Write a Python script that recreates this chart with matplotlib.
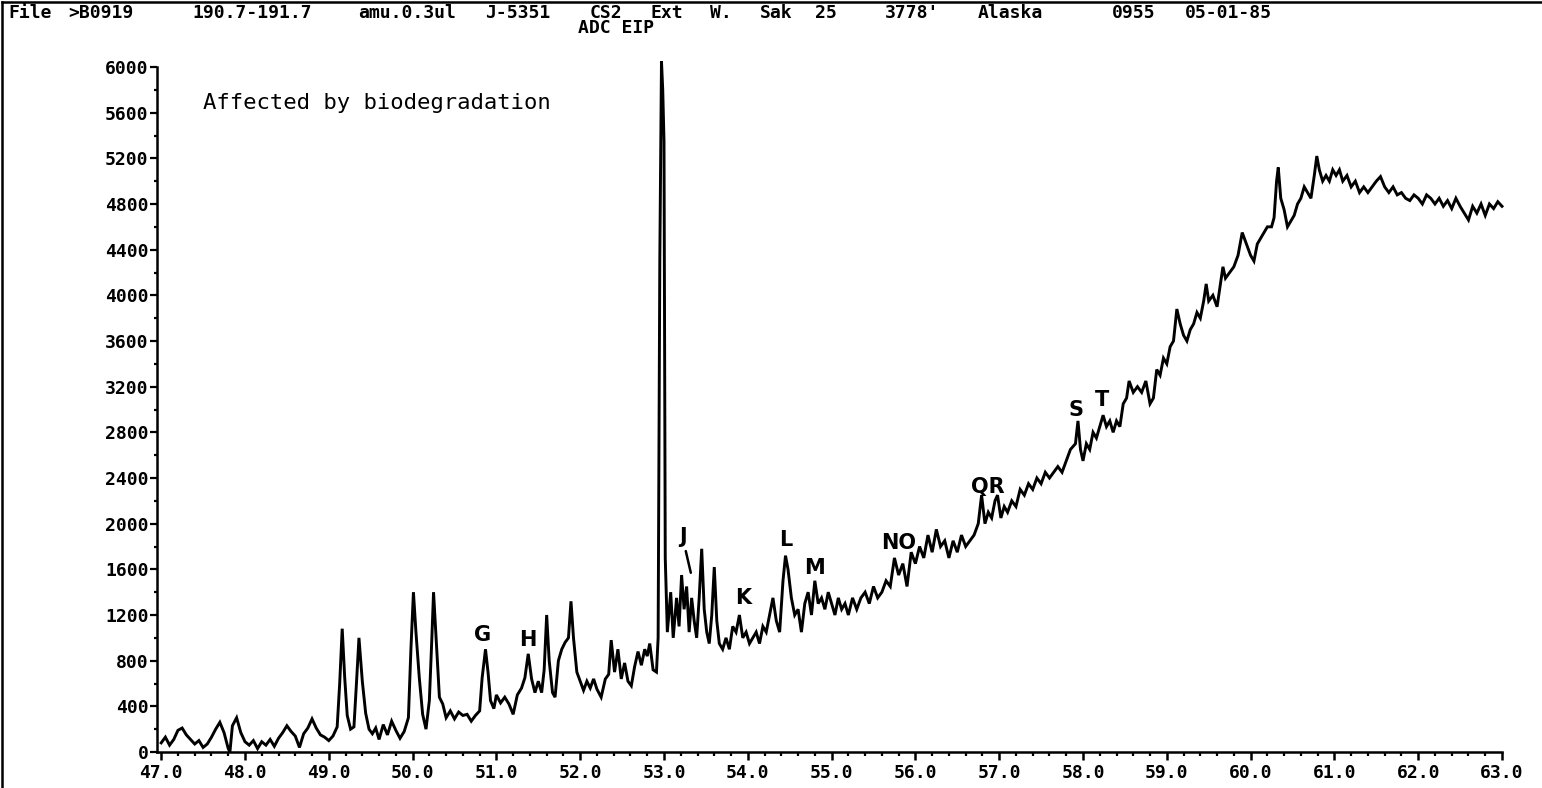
import matplotlib
matplotlib.use("Agg")
import matplotlib.pyplot as plt
from matplotlib.lines import Line2D
from matplotlib.ticker import MultipleLocator, FormatStrFormatter
import numpy as np

# retention time (min) and abundance in four pieces
rt_a = [47.00, 47.05, 47.10, 47.15, 47.20, 47.25, 47.30, 47.35, 47.40, 47.45,
        47.50, 47.55, 47.60, 47.65, 47.70, 47.75, 47.80, 47.82, 47.85, 47.90,
        47.95, 48.00, 48.05, 48.10, 48.15, 48.20, 48.25, 48.30, 48.35, 48.40,
        48.45, 48.50, 48.55, 48.60, 48.65, 48.70, 48.75, 48.80, 48.85, 48.90,
        48.95, 49.00, 49.05, 49.10]
cnt_a = [80, 130, 60, 110, 190, 210, 150, 110, 70, 100,
         40, 70, 130, 200, 260, 170, 30, 0, 230, 300,
         170, 90, 60, 100, 30, 90, 60, 110, 50, 120,
         170, 230, 180, 140, 40, 160, 210, 290, 210, 150,
         130, 100, 140, 220]

rt_b = [49.13, 49.16, 49.19, 49.22, 49.26, 49.30, 49.33, 49.36, 49.40, 49.44,
        49.48, 49.52, 49.56, 49.60, 49.65, 49.70, 49.75, 49.80, 49.85, 49.90,
        49.95, 49.98, 50.01, 50.04, 50.08, 50.12, 50.16, 50.20, 50.23, 50.25,
        50.28, 50.32, 50.36, 50.40, 50.45, 50.50, 50.55, 50.60, 50.65, 50.70,
        50.75, 50.80, 50.83, 50.87, 50.90, 50.93, 50.97, 51.00, 51.05, 51.10,
        51.15, 51.20, 51.25, 51.30, 51.34, 51.38, 51.42, 51.46, 51.50, 51.54,
        51.57, 51.60, 51.63, 51.67, 51.70, 51.74, 51.78, 51.82, 51.86, 51.89,
        51.92, 51.96, 52.00, 52.04, 52.08, 52.12, 52.16, 52.20, 52.25, 52.30,
        52.34, 52.37, 52.41, 52.45, 52.49, 52.53, 52.57, 52.61, 52.65, 52.69,
        52.73, 52.77, 52.80, 52.83, 52.87, 52.91, 52.93]
cnt_b = [600, 1080, 650, 320, 200, 220, 600, 1000, 620, 340,
         200, 160, 210, 110, 240, 150, 270, 190, 120, 180,
         300, 900, 1400, 1050, 650, 330, 200, 450, 1000, 1400,
         1000, 480, 420, 300, 360, 290, 350, 320, 330, 270,
         320, 360, 650, 900, 700, 450, 380, 500, 430, 480,
         420, 330, 500, 560, 650, 860, 640, 520, 620, 520,
         720, 1200, 800, 520, 480, 800, 900, 960, 1000, 1320,
         1000, 700, 620, 540, 620, 560, 640, 550, 480, 640,
         680, 980, 700, 900, 640, 780, 620, 580, 750, 880,
         760, 900, 840, 950, 720, 700, 1000]

rt_c = [52.95, 52.97, 52.985, 53.00, 53.015, 53.04, 53.08, 53.11, 53.15, 53.18,
        53.21, 53.24, 53.27, 53.30, 53.33, 53.36, 53.39, 53.42, 53.45, 53.48,
        53.51, 53.54, 53.57, 53.60, 53.63, 53.66, 53.70, 53.74, 53.78, 53.82,
        53.86, 53.90, 53.94, 53.98, 54.02, 54.06, 54.10, 54.14, 54.18, 54.22,
        54.26, 54.30, 54.34, 54.38, 54.42, 54.45, 54.48, 54.52, 54.56, 54.60,
        54.64, 54.68, 54.72, 54.76, 54.80, 54.84, 54.88, 54.92, 54.96, 55.00,
        55.04, 55.08, 55.12, 55.16, 55.20, 55.25, 55.30, 55.35, 55.40, 55.45,
        55.50, 55.55, 55.60, 55.65, 55.70, 55.75, 55.80, 55.85, 55.90, 55.95,
        56.00, 56.05, 56.10, 56.15, 56.20, 56.25, 56.30, 56.35, 56.40, 56.45,
        56.50, 56.55, 56.60, 56.65, 56.70, 56.75]
cnt_c = [4300, 6050, 5800, 5350, 1700, 1050, 1400, 1000, 1350, 1100,
         1550, 1250, 1450, 1050, 1350, 1150, 1000, 1350, 1780, 1250,
         1050, 950, 1200, 1620, 1150, 950, 900, 1000, 900, 1100,
         1050, 1200, 1000, 1050, 950, 1000, 1050, 950, 1100, 1050,
         1200, 1350, 1150, 1050, 1500, 1720, 1600, 1350, 1200, 1250,
         1050, 1300, 1400, 1200, 1500, 1300, 1350, 1250, 1400, 1300,
         1200, 1350, 1250, 1300, 1200, 1350, 1250, 1350, 1400, 1300,
         1450, 1350, 1400, 1500, 1450, 1700, 1550, 1650, 1450, 1750,
         1650, 1800, 1700, 1900, 1750, 1950, 1800, 1850, 1700, 1850,
         1750, 1900, 1800, 1850, 1900, 2000]

rt_d = [56.79, 56.83, 56.87, 56.91, 56.95, 56.98, 57.02, 57.06, 57.10, 57.15,
        57.20, 57.25, 57.30, 57.35, 57.40, 57.45, 57.50, 57.55, 57.60, 57.65,
        57.70, 57.75, 57.80, 57.85, 57.91, 57.94, 57.97, 58.00, 58.04, 58.08,
        58.12, 58.16, 58.20, 58.24, 58.28, 58.32, 58.36, 58.40, 58.44, 58.48,
        58.52, 58.55, 58.60, 58.65, 58.70, 58.75, 58.80, 58.84, 58.88, 58.92,
        58.96, 59.00, 59.04, 59.08, 59.12, 59.16, 59.20, 59.24, 59.28, 59.32,
        59.36, 59.40, 59.44, 59.47, 59.50, 59.55, 59.60, 59.64, 59.67, 59.70,
        59.75, 59.80, 59.85, 59.90, 59.95, 60.00, 60.04, 60.08, 60.12, 60.16,
        60.20, 60.25, 60.28, 60.31, 60.33, 60.36, 60.40, 60.44, 60.48, 60.52,
        60.56, 60.60, 60.64, 60.68, 60.72, 60.76, 60.79, 60.82, 60.86, 60.90,
        60.94, 60.98, 61.02, 61.06, 61.10, 61.15, 61.20, 61.25, 61.30, 61.35,
        61.40, 61.45, 61.50, 61.55, 61.60, 61.65, 61.70, 61.75, 61.80, 61.85,
        61.90, 61.95, 62.00, 62.05, 62.10, 62.15, 62.20, 62.25, 62.30, 62.35,
        62.40, 62.45, 62.50, 62.55, 62.60, 62.65, 62.70, 62.75, 62.80, 62.85,
        62.90, 62.95, 63.00]
cnt_d = [2250, 2000, 2100, 2050, 2200, 2250, 2050, 2150, 2100, 2200,
         2150, 2300, 2250, 2350, 2300, 2400, 2350, 2450, 2400, 2450,
         2500, 2450, 2550, 2650, 2700, 2900, 2650, 2550, 2700, 2650,
         2800, 2750, 2850, 2950, 2850, 2900, 2800, 2900, 2850, 3050,
         3100, 3250, 3150, 3200, 3150, 3250, 3050, 3100, 3350, 3300,
         3450, 3400, 3550, 3600, 3880, 3750, 3650, 3600, 3700, 3750,
         3850, 3800, 3950, 4100, 3950, 4000, 3900, 4100, 4250, 4150,
         4200, 4250, 4350, 4550, 4450, 4350, 4300, 4450, 4500, 4550,
         4600, 4600, 4680, 5000, 5120, 4850, 4750, 4600, 4650, 4700,
         4800, 4850, 4950, 4900, 4850, 5050, 5220, 5100, 5000, 5050,
         5000, 5100, 5050, 5100, 5000, 5050, 4950, 5000, 4900, 4950,
         4900, 4950, 5000, 5040, 4950, 4900, 4950, 4880, 4900, 4850,
         4830, 4880, 4850, 4800, 4880, 4850, 4800, 4850, 4780, 4830,
         4760, 4850, 4780, 4720, 4660, 4780, 4720, 4800, 4700, 4800,
         4760, 4820, 4780]

# peak letters and where they sit
peak_labels = ["G", "H", "J", "K", "L", "M", "NO", "QR", "S", "T"]
peak_rt = [50.84, 51.37, 53.23, 53.95, 54.45, 54.80, 55.80, 56.87, 57.92, 58.23]
peak_y = [1025, 985, 1880, 1350, 1860, 1610, 1830, 2320, 2995, 3080]

header_words = ["File", ">B0919", "190.7-191.7", "amu.0.3ul", "J-5351",
                "CS2", "Ext", "W.", "Sak", "25", "3778'", "Alaska", "0955",
                "05-01-85"]
header_px = [8, 68, 192, 358, 485, 590, 650, 710, 760, 815, 885, 978,
             1112, 1185]

rt = np.array(rt_a + rt_b + rt_c + rt_d)
cnt = np.array(cnt_a + cnt_b + cnt_c + cnt_d)

W, H = 1542, 788
fig = plt.figure(figsize=(W / 100, H / 100), dpi=100)
ax = fig.add_axes([157 / W, 1 - 752 / H, (1502 - 157) / W, (752 - 67) / H])

ax.plot(rt, cnt, color="black", lw=2.1, clip_on=False, solid_joinstyle="miter")

ax.set_xlim(46.95, 63.0)
ax.set_ylim(0, 6000)
for s in ["top", "right"]:
    ax.spines[s].set_visible(False)
for s in ["left", "bottom"]:
    ax.spines[s].set_linewidth(1.8)

ax.xaxis.set_major_locator(MultipleLocator(1.0))
ax.xaxis.set_minor_locator(MultipleLocator(0.2))
ax.xaxis.set_major_formatter(FormatStrFormatter("%.1f"))
ax.yaxis.set_major_locator(MultipleLocator(400))
ax.yaxis.set_minor_locator(MultipleLocator(200))
ax.set_xticks([t for t in np.arange(47.0, 63.01, 1.0)])

mono = "DejaVu Sans Mono"
ax.tick_params(axis="x", which="major", direction="out", length=6, width=1.8,
               pad=3, labelsize=13)
ax.tick_params(axis="x", which="minor", direction="out", length=3, width=1.6)
ax.tick_params(axis="y", which="major", direction="out", length=5, width=1.6,
               pad=1, labelsize=13)
ax.tick_params(axis="y", which="minor", direction="out", length=2.5, width=1.6)
for lab in ax.get_xticklabels() + ax.get_yticklabels():
    lab.set_fontfamily(mono)
    lab.set_fontweight("bold")

ax.text(47.50, 5683, "Affected by biodegradation", fontsize=16,
        family=mono, ha="left", va="center")

for lab, x, y in zip(peak_labels, peak_rt, peak_y):
    ax.text(x, y, lab, fontsize=15, ha="center", va="center",
            family="DejaVu Sans", fontweight="bold")
# little pointer under J
ax.annotate("", xy=(53.32, 1570), xytext=(53.26, 1760),
            arrowprops=dict(arrowstyle="-", lw=1.8, color="black",
                            shrinkA=0, shrinkB=0))

for word, px in zip(header_words, header_px):
    fig.text(px / W, 1 - 13 / H, word, fontsize=13, family=mono,
             fontweight="bold", ha="left", va="center")
fig.text(578 / W, 1 - 28 / H, "ADC EIP", fontsize=13, family=mono,
         fontweight="bold", ha="left", va="center")

# page frame, top and left edges only
fig.add_artist(Line2D([2 / W, 1], [1 - 1.5 / H, 1 - 1.5 / H], color="black",
                      lw=1.8, transform=fig.transFigure))
fig.add_artist(Line2D([2 / W, 2 / W], [0, 1 - 1.5 / H], color="black",
                      lw=1.8, transform=fig.transFigure))

fig.savefig("out.png", dpi=100)
